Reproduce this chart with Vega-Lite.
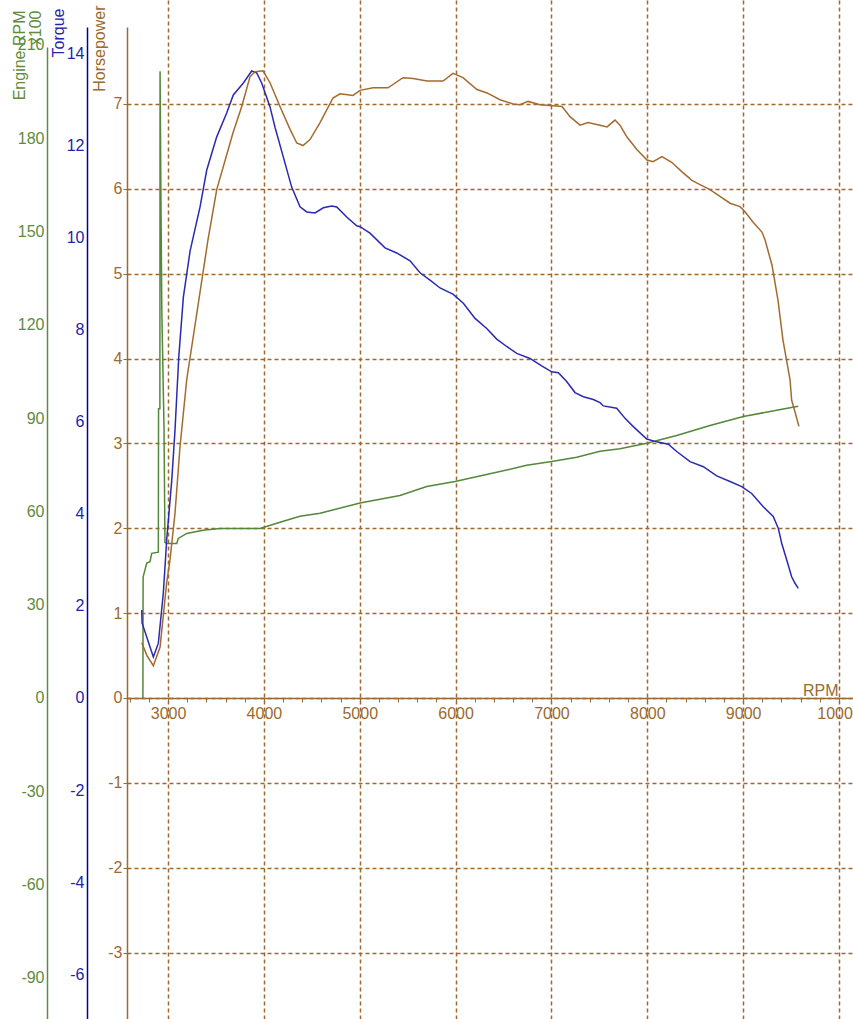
{
  "$schema": "https://vega.github.io/schema/vega-lite/v6.json",
  "width": 726,
  "height": 1019,
  "autosize": {"type": "none"},
  "padding": {"left": 127, "top": 0, "right": 0, "bottom": 0},
  "background": "white",
  "config": {"view": {"stroke": null}, "font": "Liberation Sans"},
  "datasets": {
    "hp": [
      {"rpm": 2726, "hp": 0.65}, {"rpm": 2780, "hp": 0.5}, {"rpm": 2847, "hp": 0.38}, {"rpm": 2917, "hp": 0.6},
      {"rpm": 2986, "hp": 1.36}, {"rpm": 3021, "hp": 1.63}, {"rpm": 3073, "hp": 2.18}, {"rpm": 3125, "hp": 2.96},
      {"rpm": 3195, "hp": 3.75}, {"rpm": 3417, "hp": 5.4}, {"rpm": 3508, "hp": 5.99}, {"rpm": 3678, "hp": 6.66},
      {"rpm": 3769, "hp": 6.97}, {"rpm": 3855, "hp": 7.32}, {"rpm": 3908, "hp": 7.38}, {"rpm": 3991, "hp": 7.39},
      {"rpm": 4064, "hp": 7.25}, {"rpm": 4168, "hp": 6.97}, {"rpm": 4273, "hp": 6.7}, {"rpm": 4343, "hp": 6.54},
      {"rpm": 4408, "hp": 6.51}, {"rpm": 4481, "hp": 6.58}, {"rpm": 4586, "hp": 6.78}, {"rpm": 4721, "hp": 7.07},
      {"rpm": 4794, "hp": 7.12}, {"rpm": 4930, "hp": 7.1}, {"rpm": 5003, "hp": 7.16}, {"rpm": 5139, "hp": 7.19},
      {"rpm": 5295, "hp": 7.19}, {"rpm": 5452, "hp": 7.31}, {"rpm": 5556, "hp": 7.3}, {"rpm": 5702, "hp": 7.27},
      {"rpm": 5869, "hp": 7.27}, {"rpm": 5973, "hp": 7.36}, {"rpm": 6077, "hp": 7.31}, {"rpm": 6223, "hp": 7.17},
      {"rpm": 6328, "hp": 7.13}, {"rpm": 6463, "hp": 7.05}, {"rpm": 6599, "hp": 7.0}, {"rpm": 6672, "hp": 6.99},
      {"rpm": 6756, "hp": 7.03}, {"rpm": 6881, "hp": 6.99}, {"rpm": 7016, "hp": 6.98}, {"rpm": 7110, "hp": 6.97},
      {"rpm": 7194, "hp": 6.85}, {"rpm": 7298, "hp": 6.75}, {"rpm": 7381, "hp": 6.78}, {"rpm": 7507, "hp": 6.75},
      {"rpm": 7580, "hp": 6.73}, {"rpm": 7663, "hp": 6.81}, {"rpm": 7715, "hp": 6.75}, {"rpm": 7788, "hp": 6.61},
      {"rpm": 7893, "hp": 6.46}, {"rpm": 7997, "hp": 6.34}, {"rpm": 8060, "hp": 6.32}, {"rpm": 8153, "hp": 6.38},
      {"rpm": 8258, "hp": 6.31}, {"rpm": 8362, "hp": 6.2}, {"rpm": 8466, "hp": 6.1}, {"rpm": 8550, "hp": 6.05},
      {"rpm": 8654, "hp": 5.99}, {"rpm": 8758, "hp": 5.91}, {"rpm": 8863, "hp": 5.83}, {"rpm": 8967, "hp": 5.79},
      {"rpm": 9019, "hp": 5.73}, {"rpm": 9102, "hp": 5.61}, {"rpm": 9196, "hp": 5.49}, {"rpm": 9228, "hp": 5.4},
      {"rpm": 9301, "hp": 5.1}, {"rpm": 9363, "hp": 4.69}, {"rpm": 9415, "hp": 4.22}, {"rpm": 9489, "hp": 3.75},
      {"rpm": 9506, "hp": 3.51}, {"rpm": 9541, "hp": 3.37}, {"rpm": 9582, "hp": 3.2}
    ],
    "tq": [
      {"rpm": 2726, "tq": 1.91}, {"rpm": 2729, "tq": 1.63}, {"rpm": 2847, "tq": 0.89}, {"rpm": 2899, "tq": 1.19},
      {"rpm": 2951, "tq": 2.28}, {"rpm": 2986, "tq": 3.43}, {"rpm": 3039, "tq": 4.73}, {"rpm": 3073, "tq": 5.82},
      {"rpm": 3112, "tq": 7.4}, {"rpm": 3160, "tq": 8.7}, {"rpm": 3230, "tq": 9.7}, {"rpm": 3334, "tq": 10.66},
      {"rpm": 3404, "tq": 11.46}, {"rpm": 3508, "tq": 12.18}, {"rpm": 3612, "tq": 12.7}, {"rpm": 3681, "tq": 13.09},
      {"rpm": 3786, "tq": 13.35}, {"rpm": 3873, "tq": 13.61}, {"rpm": 3925, "tq": 13.57}, {"rpm": 3977, "tq": 13.35},
      {"rpm": 4064, "tq": 12.83}, {"rpm": 4116, "tq": 12.39}, {"rpm": 4203, "tq": 11.74}, {"rpm": 4290, "tq": 11.09},
      {"rpm": 4377, "tq": 10.66}, {"rpm": 4447, "tq": 10.55}, {"rpm": 4534, "tq": 10.53}, {"rpm": 4620, "tq": 10.64},
      {"rpm": 4708, "tq": 10.68}, {"rpm": 4760, "tq": 10.66}, {"rpm": 4864, "tq": 10.44}, {"rpm": 4968, "tq": 10.25},
      {"rpm": 5003, "tq": 10.23}, {"rpm": 5107, "tq": 10.09}, {"rpm": 5264, "tq": 9.77}, {"rpm": 5386, "tq": 9.66},
      {"rpm": 5525, "tq": 9.49}, {"rpm": 5629, "tq": 9.23}, {"rpm": 5733, "tq": 9.07}, {"rpm": 5838, "tq": 8.9},
      {"rpm": 5976, "tq": 8.76}, {"rpm": 6081, "tq": 8.57}, {"rpm": 6203, "tq": 8.24}, {"rpm": 6325, "tq": 8.02},
      {"rpm": 6429, "tq": 7.79}, {"rpm": 6533, "tq": 7.63}, {"rpm": 6638, "tq": 7.48}, {"rpm": 6776, "tq": 7.37},
      {"rpm": 6898, "tq": 7.21}, {"rpm": 7003, "tq": 7.08}, {"rpm": 7072, "tq": 7.06}, {"rpm": 7159, "tq": 6.87},
      {"rpm": 7246, "tq": 6.63}, {"rpm": 7333, "tq": 6.54}, {"rpm": 7437, "tq": 6.48}, {"rpm": 7507, "tq": 6.41},
      {"rpm": 7541, "tq": 6.34}, {"rpm": 7681, "tq": 6.29}, {"rpm": 7768, "tq": 6.07}, {"rpm": 7854, "tq": 5.89},
      {"rpm": 7994, "tq": 5.62}, {"rpm": 8098, "tq": 5.56}, {"rpm": 8219, "tq": 5.51}, {"rpm": 8307, "tq": 5.35},
      {"rpm": 8446, "tq": 5.13}, {"rpm": 8585, "tq": 5.02}, {"rpm": 8724, "tq": 4.82}, {"rpm": 8863, "tq": 4.7},
      {"rpm": 8985, "tq": 4.59}, {"rpm": 9089, "tq": 4.44}, {"rpm": 9210, "tq": 4.15}, {"rpm": 9314, "tq": 3.94},
      {"rpm": 9367, "tq": 3.68}, {"rpm": 9402, "tq": 3.36}, {"rpm": 9454, "tq": 3.0}, {"rpm": 9506, "tq": 2.63},
      {"rpm": 9541, "tq": 2.49}, {"rpm": 9575, "tq": 2.38}
    ],
    "eng": [
      {"rpm": 2738, "eng": 0}, {"rpm": 2740, "eng": 38.9}, {"rpm": 2778, "eng": 43.4}, {"rpm": 2812, "eng": 43.8},
      {"rpm": 2830, "eng": 46.5}, {"rpm": 2899, "eng": 46.9}, {"rpm": 2901, "eng": 93}, {"rpm": 2915, "eng": 93},
      {"rpm": 2917, "eng": 201.5}, {"rpm": 2925, "eng": 165}, {"rpm": 2935, "eng": 125}, {"rpm": 2958, "eng": 87},
      {"rpm": 2968, "eng": 50}, {"rpm": 2990, "eng": 49.7}, {"rpm": 3091, "eng": 49.7}, {"rpm": 3107, "eng": 51.3},
      {"rpm": 3195, "eng": 52.9}, {"rpm": 3365, "eng": 53.9}, {"rpm": 3542, "eng": 54.5}, {"rpm": 3647, "eng": 54.5},
      {"rpm": 3960, "eng": 54.5}, {"rpm": 4168, "eng": 56.5}, {"rpm": 4377, "eng": 58.4}, {"rpm": 4586, "eng": 59.4},
      {"rpm": 5003, "eng": 62.7}, {"rpm": 5420, "eng": 65.1}, {"rpm": 5699, "eng": 68.0}, {"rpm": 5994, "eng": 69.6},
      {"rpm": 6393, "eng": 72.3}, {"rpm": 6742, "eng": 74.8}, {"rpm": 7003, "eng": 76.0}, {"rpm": 7264, "eng": 77.4},
      {"rpm": 7507, "eng": 79.3}, {"rpm": 7715, "eng": 80.1}, {"rpm": 7994, "eng": 81.9}, {"rpm": 8307, "eng": 84.4},
      {"rpm": 8654, "eng": 87.6}, {"rpm": 9002, "eng": 90.5}, {"rpm": 9280, "eng": 92.1}, {"rpm": 9489, "eng": 93.3},
      {"rpm": 9575, "eng": 93.8}
    ]
  },
  "encoding": {
    "x": {
      "field": "rpm",
      "type": "quantitative",
      "scale": {"domain": [2572, 10146], "nice": false, "zero": false},
      "axis": {
        "orient": "bottom",
        "offset": -321,
        "values": [2600, 2800, 3000, 3200, 3400, 3600, 3800, 4000, 4200, 4400, 4600, 4800, 5000, 5200, 5400, 5600, 5800, 6000, 6200, 6400, 6600, 6800, 7000, 7200, 7400, 7600, 7800, 8000, 8200, 8400, 8600, 8800, 9000, 9200, 9400, 9600, 9800, 10000],
        "format": "d",
        "labelExpr": "datum.value % 1000 === 0 ? datum.label : ''",
        "grid": true,
        "gridColor": "#a0692b",
        "gridDash": [4, 3],
        "gridWidth": 1.5,
        "gridOpacity": {"condition": {"test": "datum.value % 1000 === 0", "value": 1}, "value": 0},
        "domainColor": "#9b6a2f",
        "domainWidth": 1.5,
        "tickColor": "#9b6a2f",
        "tickSize": 4,
        "tickWidth": 1,
        "labelPadding": 3,
        "labelColor": "#9b6a2f",
        "labelFont": "Liberation Sans",
        "labelFontSize": 16,
        "labelFlush": false,
        "labelOverlap": false,
        "title": "RPM",
        "titleColor": "#9b6a2f",
        "titleFont": "Liberation Sans",
        "titleFontSize": 16,
        "titleFontWeight": "normal",
        "titleAngle": 0,
        "titleAlign": "right",
        "titleBaseline": "alphabetic",
        "titleX": 711,
        "titleY": -3
      }
    }
  },
  "layer": [
    {
      "data": {"name": "eng"},
      "mark": {"type": "line", "color": "#55873a", "strokeWidth": 1.5, "clip": true},
      "encoding": {
        "y": {
          "field": "eng",
          "type": "quantitative",
          "scale": {"domain": [-103.2, 224.4], "nice": false, "zero": false},
          "axis": {
            "title": ["Engine RPM", "x100"],
            "orient": "left",
            "offset": 80,
            "values": [-90, -60, -30, 0, 30, 60, 90, 120, 150, 180, 210],
            "labelExpr": "replace(datum.label, '\u2212', '-')",
            "grid": false,
            "ticks": false,
            "domainColor": "#5e8c3c",
            "domainWidth": 1.5,
            "domainDash": [972, 200],
            "labelPadding": 3,
            "labelColor": "#5e8c3c",
            "labelFont": "Liberation Sans",
            "labelFontSize": 16,
            "labelFlush": false,
            "labelOverlap": false,
            "titleColor": "#5e8c3c",
            "titleFont": "Liberation Sans",
            "titleFontSize": 16,
            "titleFontWeight": "normal",
            "titleLineHeight": 16,
            "titleAngle": -90,
            "titleAlign": "right",
            "titleBaseline": "top",
            "titleX": -36,
            "titleY": 10
          }
        }
      }
    },
    {
      "data": {"name": "tq"},
      "mark": {"type": "line", "color": "#2a2ab0", "strokeWidth": 1.5, "clip": true},
      "encoding": {
        "y": {
          "field": "tq",
          "type": "quantitative",
          "scale": {"domain": [-6.968, 15.151], "nice": false, "zero": false},
          "axis": {
            "title": "Torque",
            "orient": "left",
            "offset": 40,
            "values": [-6, -4, -2, 0, 2, 4, 6, 8, 10, 12, 14],
            "labelExpr": "replace(datum.label, '\u2212', '-')",
            "grid": false,
            "ticks": false,
            "domainColor": "#00009c",
            "domainWidth": 1.5,
            "domainDash": [992, 200],
            "labelPadding": 3,
            "labelColor": "#2424a8",
            "labelFont": "Liberation Sans",
            "labelFontSize": 16,
            "labelFlush": false,
            "labelOverlap": false,
            "titleColor": "#2424a8",
            "titleFont": "Liberation Sans",
            "titleFontSize": 16,
            "titleFontWeight": "normal",
            "titleAngle": -90,
            "titleAlign": "right",
            "titleBaseline": "top",
            "titleX": -37,
            "titleY": 8
          }
        }
      }
    },
    {
      "data": {"name": "hp"},
      "mark": {"type": "line", "color": "#a36b2d", "strokeWidth": 1.5, "clip": true},
      "encoding": {
        "y": {
          "field": "hp",
          "type": "quantitative",
          "scale": {"domain": [-3.783, 8.225], "nice": false, "zero": false},
          "axis": {
            "title": "Horsepower",
            "orient": "left",
            "offset": 0,
            "values": [-3, -2, -1, 0, 1, 2, 3, 4, 5, 6, 7],
            "labelExpr": "replace(datum.label, '\u2212', '-')",
            "grid": true,
            "gridColor": "#a0692b",
            "gridDash": [4, 3],
            "gridWidth": 1.5,
            "ticks": true,
            "tickSize": 4,
            "tickColor": "#9b6a2f",
            "domainColor": "#9b6a2f",
            "domainWidth": 1.5,
            "domainDash": [992, 200],
            "labelPadding": 1,
            "labelColor": "#9b6a2f",
            "labelFont": "Liberation Sans",
            "labelFontSize": 16,
            "labelFlush": false,
            "labelOverlap": false,
            "titleColor": "#9b6a2f",
            "titleFont": "Liberation Sans",
            "titleFontSize": 16,
            "titleFontWeight": "normal",
            "titleAngle": -90,
            "titleAlign": "right",
            "titleBaseline": "top",
            "titleX": -36,
            "titleY": 5
          }
        }
      }
    }
  ],
  "resolve": {"scale": {"y": "independent"}, "axis": {"y": "independent"}}
}
